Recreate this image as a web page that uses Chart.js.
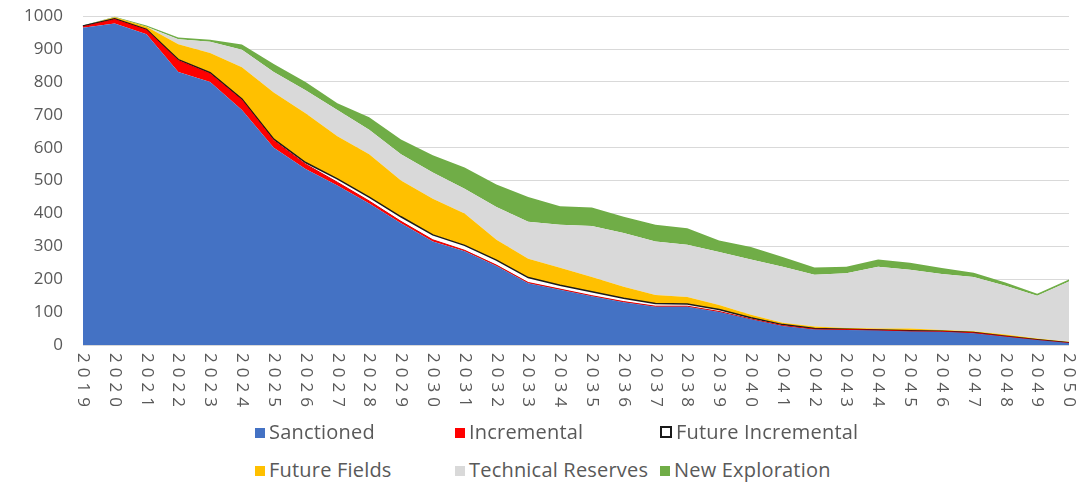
<!DOCTYPE html>
<html lang="en">
<head>
    <meta charset="UTF-8">
    <title>Production outlook</title>
    <script src="https://cdn.jsdelivr.net/npm/chart.js"></script>
    <style>
        body {
            margin: 0;
            background: #fff;
            font-family: "Open Sans", Arial, sans-serif;
        }
        #wrap {
            position: relative;
            width: 1079px;
            height: 486px;
            overflow: hidden;
        }
        #chart-box {
            position: absolute;
            left: 0;
            top: -14px;
            width: 1079px;
            height: 434px;
        }
        .leg {
            position: absolute;
            font-size: 20px;
            letter-spacing: 0.2px;
            color: #595959;
            white-space: nowrap;
            line-height: 22px;
        }
        .leg i {
            display: inline-block;
            width: 10px;
            height: 10px;
            margin-right: 4px;
            vertical-align: 1px;
        }
    </style>
</head>
<body>
    <div id="wrap">
        <div id="chart-box">
            <canvas id="prod"></canvas>
        </div>
        <div id="legend"></div>
    </div>

    <script>
        // years on the x axis
        const years = ['2019', '2020', '2021', '2022', '2023', '2024', '2025', '2026', '2027', '2028',
            '2029', '2030', '2031', '2032', '2033', '2034', '2035', '2036', '2037', '2038',
            '2039', '2040', '2041', '2042', '2043', '2044', '2045', '2046', '2047', '2048',
            '2049', '2050'];

        const sanctioned = [965, 978, 945, 830, 800, 715, 600, 535, 485, 430, 370, 315, 285, 240, 188, 168,
            148, 130, 116, 116, 100, 78, 58, 47, 46, 44, 41, 40, 36, 25, 15, 6];
        const incremental = [3, 12, 13, 35, 25, 30, 22, 15, 10, 8, 6, 5, 3, 3, 2, 2,
            2, 2, 2, 2, 2, 1, 1, 1, 1, 1, 1, 1, 1, 1, 0, 0];
        const futureIncremental = [2, 2, 2, 3, 3, 3, 4, 5, 10, 12, 14, 15, 15, 15, 15, 12,
            12, 10, 8, 7, 6, 4, 3, 2, 1, 1, 1, 1, 1, 1, 1, 1];
        const futureFields = [0, 5, 8, 47, 60, 97, 142, 150, 130, 130, 110, 110, 97, 62, 57, 53,
            45, 35, 26, 21, 14, 9, 6, 6, 4, 4, 7, 4, 4, 5, 4, 3];
        const technicalReserves = [0, 0, 0, 15, 34, 53, 62, 70, 80, 75, 80, 80, 75, 100, 113, 131,
            155, 164, 163, 159, 161, 168, 170, 158, 166, 188, 179, 170, 165, 148, 130, 183];
        const newExploration = [2, 1, 4, 5, 6, 16, 25, 25, 20, 38, 45, 52, 65, 68, 75, 56,
            56, 49, 51, 50, 35, 38, 30, 22, 20, 22, 21, 18, 13, 10, 6, 6];

        const yTicks = [0, 100, 200, 300, 400, 500, 600, 700, 800, 900, 1000];

        const series = [
            { label: 'Sanctioned', data: sanctioned, color: '#4472C4', line: '#4472C4', width: 0 },
            { label: 'Incremental', data: incremental, color: '#FF0000', line: '#E00000', width: 1 },
            { label: 'Future Incremental', data: futureIncremental, color: '#FFFFFF', line: '#1a1a1a', width: 1.5 },
            { label: 'Future Fields', data: futureFields, color: '#FFC000', line: '#FFC000', width: 0 },
            { label: 'Technical Reserves', data: technicalReserves, color: '#D9D9D9', line: '#D9D9D9', width: 0 },
            { label: 'New Exploration', data: newExploration, color: '#70AD47', line: '#70AD47', width: 0 }
        ];

        // year labels drawn clockwise (top to bottom) like the original
        const yearLabels = {
            id: 'yearLabels',
            afterDraw(chart) {
                const xs = chart.scales.x;
                const ctx = chart.ctx;
                ctx.save();
                ctx.font = '17px "Open Sans"';
                ctx.fillStyle = '#595959';
                ctx.textAlign = 'left';
                ctx.textBaseline = 'middle';
                ctx.letterSpacing = '5px';
                xs.ticks.forEach((t, i) => {
                    const x = xs.getPixelForTick(i);
                    ctx.save();
                    ctx.translate(x, xs.top + 8);
                    ctx.rotate(Math.PI / 2);
                    ctx.fillText(xs.getLabelForValue(t.value), 0, 0);
                    ctx.restore();
                });
                ctx.restore();
            }
        };

        const ctx = document.getElementById('prod').getContext('2d');
        new Chart(ctx, {
            type: 'line',
            data: {
                labels: years,
                datasets: series.map((s, i) => ({
                    label: s.label,
                    data: s.data,
                    backgroundColor: s.color,
                    borderColor: s.line,
                    borderWidth: s.width,
                    pointRadius: 0,
                    tension: 0,
                    fill: i === 0 ? 'origin' : '-1'
                }))
            },
            options: {
                responsive: true,
                maintainAspectRatio: false,
                animation: false,
                layout: { padding: { top: 0, left: 4, right: 10, bottom: 0 } },
                scales: {
                    x: {
                        offset: false,
                        grid: { display: false },
                        border: { display: false },
                        ticks: { display: false },
                        afterFit: s => { s.height = 75; }
                    },
                    y: {
                        stacked: true,
                        min: 0,
                        max: 1000,
                        afterBuildTicks: s => { s.ticks = yTicks.map(v => ({ value: v })); },
                        grid: { color: '#D9D9D9', drawTicks: false },
                        border: { display: false },
                        ticks: {
                            color: '#595959',
                            padding: 20,
                            font: { family: '"Open Sans"', size: 17 },
                            callback: v => String(v)
                        }
                    }
                },
                plugins: {
                    legend: { display: false },
                    tooltip: { enabled: false }
                }
            },
            plugins: [yearLabels]
        });

        // two-row legend under the chart
        const legendPos = [[255, 421], [455, 421], [660, 421], [255, 459], [455, 459], [660, 459]];
        const legend = document.getElementById('legend');
        series.forEach((s, i) => {
            const d = document.createElement('div');
            d.className = 'leg';
            d.style.left = legendPos[i][0] + 'px';
            d.style.top = legendPos[i][1] + 'px';
            const box = s.label === 'Future Incremental'
                ? '<i style="background:#fff;border:2px solid #1a1a1a;width:8px;height:8px"></i>'
                : '<i style="background:' + s.color + '"></i>';
            d.innerHTML = box + s.label;
            legend.appendChild(d);
        });
    </script>
</body>
</html>
